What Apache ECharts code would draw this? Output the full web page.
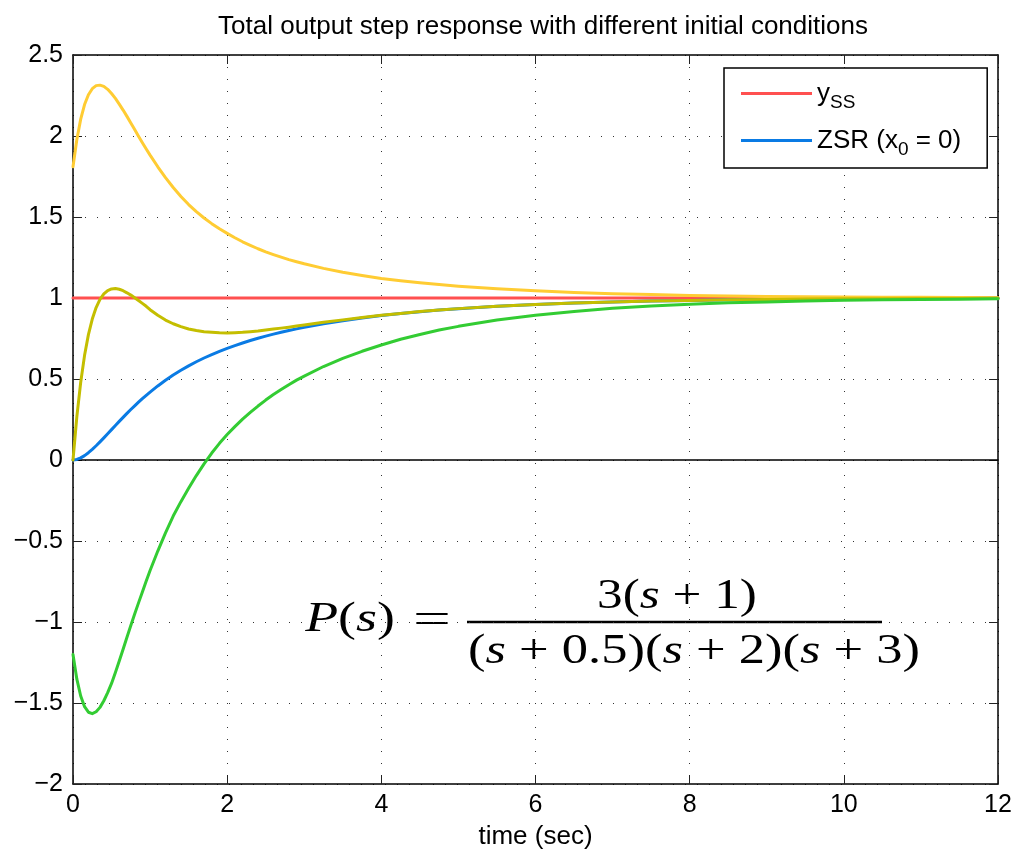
<!DOCTYPE html>
<html>
<head>
<meta charset="utf-8">
<script src="https://cdn.jsdelivr.net/npm/echarts@6/dist/echarts.min.js"></script>
<style>
html,body{margin:0;padding:0;background:#fff;}
#chart{width:1016px;height:857px;}
</style>
</head>
<body>
<div id="chart"></div>
<script>
// ---- data ----
const tSec = [0, 0.05, 0.1, 0.15, 0.2, 0.25, 0.3, 0.35, 0.4, 0.45, 0.5, 0.55, 0.6, 0.65, 0.7, 0.75, 0.8, 0.85, 0.9, 0.95, 1.0,
  1.1, 1.2, 1.3, 1.4, 1.5, 1.6, 1.7, 1.8, 1.9, 2.0, 2.1, 2.2, 2.3, 2.4, 2.5, 2.6, 2.7, 2.8, 2.9, 3.0,
  3.25, 3.5, 3.75, 4.0, 4.25, 4.5, 4.75, 5.0,
  5.5, 6.0, 6.5, 7.0, 7.5, 8.0, 8.5, 9.0, 9.5, 10, 10.5, 11, 11.5, 12];
const ssTime = [0, 12];
const ssValue = [1, 1];
const zsrValue = [0, 0.0035, 0.0130, 0.0271, 0.0449, 0.0654, 0.0879, 0.1118, 0.1366, 0.1620, 0.1876, 0.2131, 0.2384, 0.2633, 0.2876, 0.3114, 0.3344, 0.3568, 0.3784, 0.3992, 0.4193,
  0.4571, 0.4921, 0.5243, 0.5539, 0.5812, 0.6064, 0.6296, 0.6510, 0.6709, 0.6894, 0.7065, 0.7225, 0.7375, 0.7514, 0.7645, 0.7768, 0.7883, 0.7992, 0.8095, 0.8191,
  0.8410, 0.8601, 0.8768, 0.8914, 0.9043, 0.9156, 0.9255, 0.9343,
  0.9489, 0.9602, 0.9690, 0.9758, 0.9812, 0.9853, 0.9886, 0.9911, 0.9931, 0.9946, 0.9958, 0.9967, 0.9975, 0.9980];
const yellowValue = [1.810, 1.978, 2.104, 2.194, 2.255, 2.292, 2.311, 2.314, 2.306, 2.288, 2.262, 2.232, 2.197, 2.160, 2.121, 2.080, 2.040, 1.999, 1.959, 1.920, 1.882,
  1.810, 1.743, 1.682, 1.627, 1.577, 1.533, 1.494, 1.459, 1.427, 1.399, 1.372, 1.347, 1.325, 1.304, 1.285, 1.268, 1.252, 1.237, 1.224, 1.211,
  1.183, 1.159, 1.139, 1.121, 1.107, 1.094, 1.083, 1.073,
  1.057, 1.044, 1.034, 1.027, 1.021, 1.016, 1.013, 1.010, 1.008, 1.006, 1.005, 1.004, 1.003, 1.002];
const oliveValue = [0, 0.268, 0.480, 0.646, 0.774, 0.870, 0.941, 0.992, 1.025, 1.046, 1.056, 1.058, 1.054, 1.045, 1.032, 1.018, 1.001, 0.984, 0.967, 0.949, 0.928,
  0.894, 0.864, 0.841, 0.823, 0.809, 0.799, 0.792, 0.788, 0.785, 0.784, 0.786, 0.788, 0.792, 0.796, 0.802, 0.808, 0.814, 0.820, 0.827, 0.833,
  0.850, 0.865, 0.880, 0.893, 0.905, 0.916, 0.9258, 0.9344,
  0.9489, 0.9602, 0.9690, 0.9758, 0.9812, 0.9853, 0.9886, 0.9911, 0.9931, 0.9946, 0.9958, 0.9967, 0.9975, 0.9980];
const greenValue = [-1.200, -1.353, -1.457, -1.523, -1.557, -1.566, -1.554, -1.527, -1.486, -1.436, -1.379, -1.312, -1.241, -1.168, -1.094, -1.022, -0.951, -0.882, -0.815, -0.747, -0.682,
  -0.562, -0.450, -0.346, -0.257, -0.175, -0.096, -0.024, 0.043, 0.103, 0.157, 0.206, 0.252, 0.294, 0.333, 0.370, 0.404, 0.435, 0.465, 0.493, 0.518,
  0.577, 0.627, 0.671, 0.710, 0.745, 0.775, 0.802, 0.825,
  0.864, 0.894, 0.917, 0.936, 0.950, 0.961, 0.970, 0.976, 0.982, 0.986, 0.989, 0.991, 0.993, 0.995];
const zeroTime = [0, 12];
const zeroValue = [0, 0];
const xTicks = {min: 0, max: 12, interval: 2};
const yTicks = {min: -2, max: 2.5, interval: 0.5};
const titleText = 'Total output step response with different initial conditions';
const xName = 'time (sec)';

function pairs(xs, ys) { return xs.map((x, i) => [x, ys[i]]); }

const FONT = 'Liberation Sans, Arial, Helvetica, sans-serif';
const SERIF = 'Liberation Serif, Times New Roman, serif';

const chart = echarts.init(document.getElementById('chart'), null, {renderer: 'canvas'});

const dotted = {show: true, lineStyle: {type: [1, 11], color: '#333', width: 1}};
const frameLine = {show: true, onZero: false, lineStyle: {color: '#000', width: 1.5}};
const tickIn = {show: true, inside: true, length: 9, lineStyle: {color: '#222', width: 1}};

function lineSeries(name, data, color, z, width) {
  return {
    name: name, type: 'line', data: data, showSymbol: false, symbol: 'none',
    smooth: false, z: z, silent: true, animation: false,
    lineStyle: {color: color, width: width || 3, join: 'round', cap: 'round'}, itemStyle: {color: color}
  };
}

const option = {
  backgroundColor: '#fff',
  animation: false,
  title: {
    text: titleText, left: 538, top: 9, textAlign: 'center',
    textStyle: {fontFamily: FONT, fontSize: 26, fontWeight: 'normal', color: '#000'}
  },
  grid: {left: 73, top: 55, width: 925, height: 729, containLabel: false},
  legend: {
    data: ['yss', 'zsr'],
    left: 724, top: 68, orient: 'vertical',
    backgroundColor: '#fff', borderColor: '#000', borderWidth: 1.5,
    padding: [7, 26, 9, 17], itemGap: 10,
    itemWidth: 71, itemHeight: 3, icon: 'rect',
    formatter: function (n) { return n === 'yss' ? 'y{sub|SS}' : 'ZSR (x{sub|0} = 0)'; },
    textStyle: {
      fontFamily: FONT, fontSize: 26, color: '#000', lineHeight: 36,
      rich: {sub: {fontFamily: FONT, fontSize: 19, lineHeight: 18, padding: [18, 0, 0, 0], color: '#000'}}
    }
  },
  xAxis: [{
    type: 'value', position: 'bottom', min: xTicks.min, max: xTicks.max, interval: xTicks.interval,
    axisLine: frameLine, axisTick: tickIn, splitLine: dotted,
    axisLabel: {fontFamily: FONT, fontSize: 25, color: '#000', margin: 9},
    name: xName, nameLocation: 'middle', nameGap: 40,
    nameTextStyle: {fontFamily: FONT, fontSize: 26, color: '#000'}
  }, {
    type: 'value', position: 'top', min: xTicks.min, max: xTicks.max, interval: xTicks.interval,
    axisLine: frameLine, axisTick: tickIn, splitLine: {show: false}, axisLabel: {show: false}
  }],
  yAxis: [{
    type: 'value', position: 'left', min: yTicks.min, max: yTicks.max, interval: yTicks.interval,
    axisLine: frameLine, axisTick: tickIn, splitLine: dotted,
    axisLabel: {fontFamily: FONT, fontSize: 25, color: '#000', margin: 10,
      formatter: function (v) { return String(v).replace('-', '\u2212'); }}
  }, {
    type: 'value', position: 'right', min: yTicks.min, max: yTicks.max, interval: yTicks.interval,
    axisLine: frameLine, axisTick: tickIn, splitLine: {show: false}, axisLabel: {show: false}
  }],
  series: [
    lineSeries('zero', pairs(zeroTime, zeroValue), '#000', 2, 1.5),
    lineSeries('yss', pairs(ssTime, ssValue), '#FF5050', 3),
    lineSeries('zsr', pairs(tSec, zsrValue), '#0A7BE4', 4),
    lineSeries('ic1', pairs(tSec, yellowValue), '#FFCC33', 5),
    lineSeries('ic2', pairs(tSec, oliveValue), '#C4BE00', 6),
    lineSeries('ic3', pairs(tSec, greenValue), '#33CC33', 7)
  ],
  graphic: [
    {type: 'text', x: 350, y: 620, scaleX: 1.28, silent: true,
      style: {text: '{i|P}({i|s})', fontFamily: SERIF, fontSize: 42, fill: '#000',
        align: 'center', verticalAlign: 'middle', textAlign: 'center', textVerticalAlign: 'middle',
        rich: {i: {fontFamily: SERIF, fontSize: 42, fontStyle: 'italic'}}}},
    {type: 'text', x: 432, y: 621, scaleX: 1.6, silent: true,
      style: {text: '=', fontFamily: SERIF, fontSize: 42, fill: '#000',
        align: 'center', verticalAlign: 'middle', textAlign: 'center', textVerticalAlign: 'middle'}},
    {type: 'text', x: 677, y: 597, scaleX: 1.22, silent: true,
      style: {text: '3({i|s} + 1)', fontFamily: SERIF, fontSize: 42, fill: '#000',
        align: 'center', verticalAlign: 'middle', textAlign: 'center', textVerticalAlign: 'middle',
        rich: {i: {fontFamily: SERIF, fontSize: 42, fontStyle: 'italic'}}}},
    {type: 'line', silent: true, shape: {x1: 467, y1: 622, x2: 882, y2: 622},
      style: {stroke: '#000', lineWidth: 2.5}},
    {type: 'text', x: 694, y: 652, scaleX: 1.25, silent: true,
      style: {text: '({i|s} + 0.5)({i|s} + 2)({i|s} + 3)', fontFamily: SERIF, fontSize: 42, fill: '#000',
        align: 'center', verticalAlign: 'middle', textAlign: 'center', textVerticalAlign: 'middle',
        rich: {i: {fontFamily: SERIF, fontSize: 42, fontStyle: 'italic'}}}}
  ]
};
chart.setOption(option);
</script>
</body>
</html>
